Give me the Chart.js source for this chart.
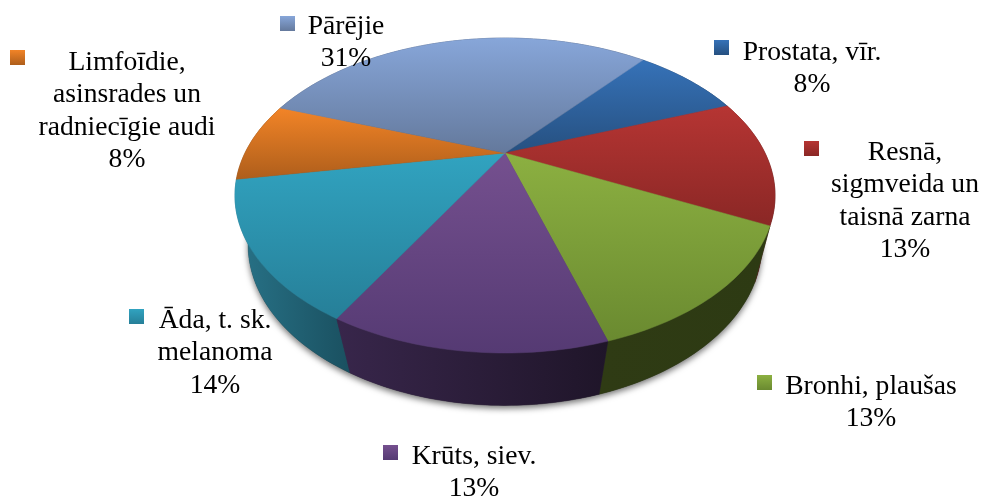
<!DOCTYPE html>
<html>
<head>
<meta charset="utf-8">
<title>Pie</title>
<script src="https://cdn.jsdelivr.net/npm/chart.js@4/dist/chart.umd.min.js"></script>
<style>
  html, body { margin: 0; padding: 0; background: #fff; }
  #wrap { width: 984px; height: 497px; }
</style>
</head>
<body>
<div id="wrap"><canvas id="pie" width="984" height="497"></canvas></div>
<script>
const categories = ['Prostata, vīr.', 'Resnā, sigmveida un taisnā zarna', 'Bronhi, plaušas', 'Krūts, siev.', 'Āda, t. sk. melanoma', 'Limfoīdie, asinsrades un radniecīgie audi', 'Pārējie'];
const values = [8.2, 13, 13, 13, 14, 8.2, 30.6];
const labelLines = [
    ['Prostata, vīr.'],
    ['Resnā,', 'sigmveida un', 'taisnā zarna'],
    ['Bronhi, plaušas'],
    ['Krūts, siev.'],
    ['Āda, t. sk.', 'melanoma'],
    ['Limfoīdie,', 'asinsrades un', 'radniecīgie audi'],
    ['Pārējie']
];

// colours: top face light -> dark, wall left -> right
const topLight = ['#3672b8', '#b63533', '#8cb041', '#75508f', '#31a3c0', '#f28427', '#87a6d9'];
const topDark = ['#265080', '#8a2725', '#6a8a30', '#553a73', '#267f98', '#ae5e1b', '#64799c'];
const wallLeft = ['#1c3a5e', '#6a1e1c', '#2f3b14', '#38264b', '#287388', '#8a4a14', '#4a5a78'];
const wallRight = ['#16304e', '#4e1615', '#2d3a13', '#1f1529', '#1a5060', '#6a3a10', '#3e4c66'];

// label placement
const labelX = [812, 905, 871, 474, 215, 127, 346];
const labelY = [60, 160, 394, 464, 328, 70, 34];
const markerX = [714, 804, 757, 383, 129, 10, 280];
const markerY = [40, 141, 375, 445, 309, 50, 16];

const FONT = '27.6px "Liberation Serif", "Times New Roman", serif';
const LINE_H = 32.4;

// perspective of the two discs
const topDisc = { cx: 505, cy: 153, a: 260, b: 146, k: 0.27 };
const lowDisc = { cx: 505, cy: 208, a: 250, b: 152, k: 0.23 };

function project(d, ang) {
    const X = Math.cos(ang), Y = Math.sin(ang);
    const w = 1 - d.k * Y;
    return [d.cx + d.a * X / w, d.cy + d.b * Y / w];
}

function rim(d, a0, a1) {
    const n = Math.max(2, Math.ceil(Math.abs(a1 - a0) / 0.02));
    const pts = [];
    for (let i = 0; i <= n; i++) pts.push(project(d, a0 + (a1 - a0) * i / n));
    return pts;
}

function tracePoly(ctx, pts) {
    ctx.beginPath();
    pts.forEach((p, i) => i ? ctx.lineTo(p[0], p[1]) : ctx.moveTo(p[0], p[1]));
    ctx.closePath();
}

function bounds(pts) {
    const xs = pts.map(p => p[0]), ys = pts.map(p => p[1]);
    return { x0: Math.min(...xs), x1: Math.max(...xs), y0: Math.min(...ys), y1: Math.max(...ys) };
}

const pie3d = {
    id: 'pie3d',
    // the arcs come from the library, only their projection is done here
    beforeDatasetDraw(chart) {
        const ctx = chart.ctx;
        const arcs = chart.getDatasetMeta(0).data;

        ctx.save();
        // soft shadow under the body
        ctx.shadowColor = 'rgba(0,0,0,0.55)';
        ctx.shadowBlur = 6;
        ctx.shadowOffsetY = 3;
        ctx.fillStyle = '#333';
        tracePoly(ctx, rim(lowDisc, 0, Math.PI * 2));
        ctx.fill();
        ctx.restore();

        // walls, back to front
        const order = arcs.map((a, i) => i).sort((i, j) =>
            Math.sin((arcs[i].startAngle + arcs[i].endAngle) / 2) - Math.sin((arcs[j].startAngle + arcs[j].endAngle) / 2));
        order.forEach(i => {
            const up = rim(topDisc, arcs[i].startAngle, arcs[i].endAngle);
            const low = rim(lowDisc, arcs[i].startAngle, arcs[i].endAngle).reverse();
            const poly = up.concat(low);
            const b = bounds(poly);
            const g = ctx.createLinearGradient(b.x0, 0, b.x1, 0);
            g.addColorStop(0, wallLeft[i]);
            g.addColorStop(1, wallRight[i]);
            tracePoly(ctx, poly);
            ctx.fillStyle = g;
            ctx.strokeStyle = g;
            ctx.lineWidth = 0.5;
            ctx.fill();
            ctx.stroke();
        });

        // top face
        arcs.forEach((arc, i) => {
            const poly = [[topDisc.cx, topDisc.cy]].concat(rim(topDisc, arc.startAngle, arc.endAngle));
            const b = bounds(poly);
            const g = ctx.createLinearGradient(0, b.y0, 0, b.y1);
            g.addColorStop(0, topLight[i]);
            g.addColorStop(1, topDark[i]);
            tracePoly(ctx, poly);
            ctx.fillStyle = g;
            ctx.strokeStyle = g;
            ctx.lineWidth = 0.5;
            ctx.fill();
            ctx.stroke();
        });
        return false;
    },
    afterDraw(chart) {
        const ctx = chart.ctx;
        const total = values.reduce((s, v) => s + v, 0);
        ctx.save();
        ctx.font = FONT;
        ctx.textAlign = 'center';
        ctx.textBaseline = 'alphabetic';
        categories.forEach((name, i) => {
            const g = ctx.createLinearGradient(0, markerY[i], 0, markerY[i] + 15);
            g.addColorStop(0, topLight[i]);
            g.addColorStop(1, topDark[i]);
            ctx.fillStyle = g;
            ctx.fillRect(markerX[i], markerY[i], 15, 15);

            ctx.fillStyle = '#000';
            const lines = labelLines[i].concat([Math.round(values[i] / total * 100) + '%']);
            lines.forEach((t, n) => ctx.fillText(t, labelX[i], labelY[i] + n * LINE_H));
        });
        ctx.restore();
    }
};

new Chart(document.getElementById('pie'), {
    type: 'pie',
    data: {
        labels: categories,
        datasets: [{ data: values, backgroundColor: topLight, borderWidth: 0 }]
    },
    options: {
        responsive: false,
        animation: false,
        rotation: 39.8,
        plugins: { legend: { display: false }, tooltip: { enabled: false } }
    },
    plugins: [pie3d]
});
</script>
</body>
</html>
